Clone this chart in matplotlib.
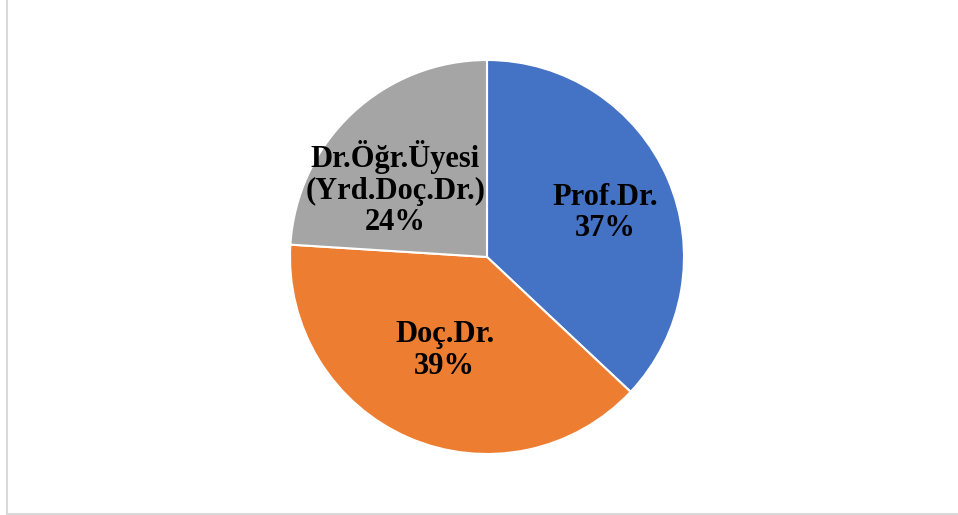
import numpy as np
import matplotlib
matplotlib.use("Agg")
import matplotlib.pyplot as plt
from matplotlib.lines import Line2D

labels = ["Prof.Dr.", "Doç.Dr.", "Dr.Öğr.Üyesi\n(Yrd.Doç.Dr.)"]
values = [37, 39, 24]
colors = ["#4472C4", "#ED7D31", "#A5A5A5"]

W, H = 958, 515
fig = plt.figure(figsize=(W / 100, H / 100), dpi=100)
ax = fig.add_axes([0, 0, 1, 1])

cx, cy, r = 487, 257, 197
wedges, _ = ax.pie(values, colors=colors, startangle=90, counterclock=False,
                   radius=1, wedgeprops=dict(edgecolor="white", linewidth=1.5))
ax.set_xlim(-cx / r, (W - cx) / r)
ax.set_ylim(-(H - cy) / r, cy / r)
ax.set_aspect("equal")
ax.axis("off")

# label placement: fraction of radius, angle tweak (deg)
label_pos = [(0.64, -3), (0.52, -1), (0.58, 10)]
for w, lab, v, (dist, dang) in zip(wedges, labels, values, label_pos):
    ang = np.deg2rad((w.theta1 + w.theta2) / 2 + dang)
    ax.text(dist * np.cos(ang), dist * np.sin(ang), f"{lab}\n{v}%",
            ha="center", va="center", fontsize=22, fontweight="bold",
            family="Liberation Serif", color="black", linespacing=1.12)

# chart frame (left and bottom edges visible)
fc = "#D9D9D9"
fig.add_artist(Line2D([6.5 / W, 6.5 / W], [0, 1], transform=fig.transFigure, color=fc, lw=1.5))
fig.add_artist(Line2D([6.5 / W, 1], [1.5 / H, 1.5 / H], transform=fig.transFigure, color=fc, lw=1.5))

fig.savefig("out.png", dpi=100)
